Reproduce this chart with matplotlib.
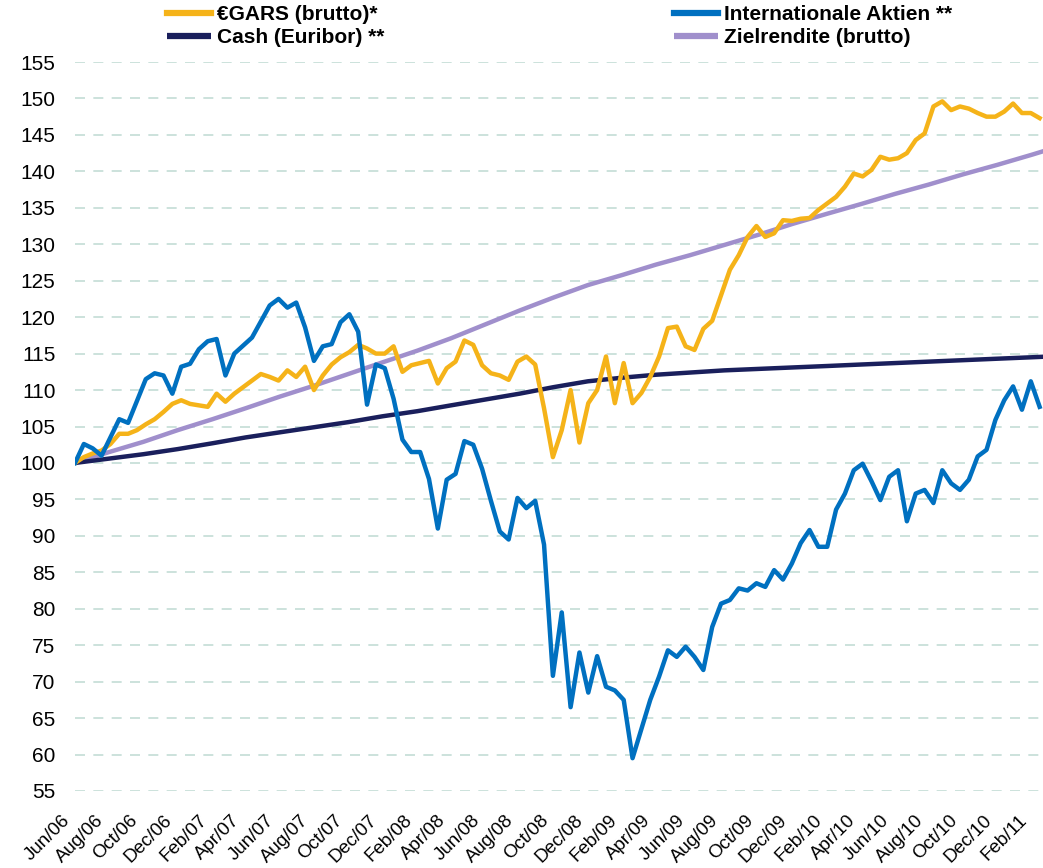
import matplotlib
matplotlib.use('Agg')
import matplotlib.pyplot as plt
import matplotlib.dates as mdates
import matplotlib.transforms as mtransforms
import pandas as pd

# semi-monthly readings, Jun 2006 - Feb 2011
dates = pd.date_range('2006-06-01', '2011-02-14', periods=110)

gars = [100.0, 100.8, 101.3, 101.7, 102.6, 104.0, 104.0, 104.5, 105.3, 106.0,
        107.0, 108.1, 108.6, 108.1, 107.9, 107.7, 109.5, 108.4, 109.5, 110.4,
        111.3, 112.2, 111.8, 111.3, 112.7, 111.8, 113.2, 110.0, 112.0, 113.5,
        114.5, 115.2, 116.2, 115.7, 115.0, 115.0, 116.0, 112.5, 113.4, 113.7,
        114.0, 110.9, 113.0, 113.9, 116.8, 116.2, 113.4, 112.3, 112.0, 111.4,
        113.9, 114.6, 113.5, 107.5, 100.8, 104.5, 110.0, 102.8, 108.2, 110.0,
        114.6, 108.2, 113.7, 108.2, 109.6, 111.8, 114.6, 118.5, 118.7, 116.0,
        115.5, 118.4, 119.5, 123.0, 126.5, 128.5, 131.0, 132.5, 131.0, 131.5,
        133.3, 133.2, 133.5, 133.6, 134.7, 135.6, 136.5, 137.9, 139.7, 139.3,
        140.2, 142.0, 141.6, 141.8, 142.5, 144.3, 145.2, 148.9, 149.6, 148.4,
        148.9, 148.6, 148.0, 147.5, 147.5, 148.2, 149.3, 148.0, 148.0, 147.3]

aktien = [100.0, 102.6, 102.0, 101.0, 103.5, 106.0, 105.5, 108.5, 111.5, 112.3,
          112.0, 109.5, 113.2, 113.6, 115.6, 116.7, 117.0, 112.0, 115.0, 116.1,
          117.2, 119.4, 121.6, 122.5, 121.3, 122.0, 118.6, 114.0, 116.0, 116.3,
          119.3, 120.4, 118.0, 108.0, 113.5, 113.0, 108.8, 103.2, 101.5, 101.5,
          97.8, 91.0, 97.7, 98.5, 103.0, 102.5, 99.2, 94.8, 90.6, 89.5,
          95.2, 93.8, 94.8, 88.8, 70.8, 79.5, 66.5, 74.0, 68.5, 73.5,
          69.3, 68.8, 67.5, 59.5, 63.5, 67.5, 70.7, 74.3, 73.4, 74.8,
          73.4, 71.6, 77.5, 80.7, 81.2, 82.8, 82.5, 83.5, 83.0, 85.3,
          84.0, 86.2, 89.0, 90.8, 88.5, 88.5, 93.6, 95.8, 99.0, 99.9,
          97.5, 94.9, 98.1, 99.0, 92.0, 95.8, 96.3, 94.5, 99.0, 97.2,
          96.3, 97.7, 100.9, 101.8, 105.9, 108.6, 110.5, 107.3, 111.2, 107.7]

# smooth series, every two months
dates_2m = pd.date_range('2006-06-01', '2011-04-01', freq='2MS')

cash = [100.0, 100.6, 101.2, 101.9, 102.7, 103.5, 104.2, 104.9, 105.6, 106.4,
        107.1, 107.9, 108.7, 109.5, 110.4, 111.2, 111.7, 112.1, 112.4, 112.7,
        112.9, 113.1, 113.3, 113.5, 113.7, 113.9, 114.1, 114.3, 114.5, 114.7]

zielrendite = [100.0, 101.5, 102.9, 104.5, 106.0, 107.5, 109.1, 110.6, 112.2, 113.8,
               115.4, 117.1, 119.0, 120.9, 122.7, 124.4, 125.8, 127.2, 128.5, 129.9,
               131.3, 132.8, 134.2, 135.5, 136.9, 138.2, 139.6, 140.9, 142.3, 143.7]

yticks = list(range(55, 160, 5))

c_gars = '#F5B319'
c_aktien = '#0070C0'
c_cash = '#1A1F5C'
c_ziel = '#A08FCC'

plt.rcParams['font.family'] = ['Liberation Sans', 'DejaVu Sans']

fig = plt.figure(figsize=(10.43, 8.68), dpi=100)
ax = fig.add_axes([75 / 1043, 1 - 791 / 868, 1 - 75 / 1043, (791 - 62) / 868])

l_ziel, = ax.plot(dates_2m, zielrendite, color=c_ziel, lw=3.2, solid_capstyle='butt')
l_cash, = ax.plot(dates_2m, cash, color=c_cash, lw=3.2, solid_capstyle='butt')
l_gars, = ax.plot(dates, gars, color=c_gars, lw=3.2, solid_joinstyle='round')
l_akt, = ax.plot(dates, aktien, color=c_aktien, lw=3.2, solid_joinstyle='round')

ax.set_ylim(55, 155)
ax.set_yticks(yticks)
ax.set_xlim(pd.Timestamp('2006-06-01'), pd.Timestamp('2011-02-20'))

ax.xaxis.set_major_locator(mdates.MonthLocator(bymonth=[2, 4, 6, 8, 10, 12], bymonthday=1))
ax.xaxis.set_major_formatter(mdates.DateFormatter('%b/%y'))

ax.grid(axis='y', color='#C4DDD6', lw=1.2, linestyle=(0, (6, 5)))
ax.set_axisbelow(True)
for s in ax.spines.values():
    s.set_visible(False)

ax.tick_params(axis='y', length=0, pad=14, labelsize=15)
ax.tick_params(axis='x', length=0, pad=15, labelsize=13.5)

offset = mtransforms.ScaledTranslation(-0.14, 0, fig.dpi_scale_trans)
for lab in ax.get_xticklabels():
    lab.set_rotation(45)
    lab.set_ha('right')
    lab.set_va('top')
    lab.set_rotation_mode('anchor')
    lab.set_transform(lab.get_transform() + offset)

leg = fig.legend([l_gars, l_cash, l_akt, l_ziel],
                 ['€GARS (brutto)*', 'Cash (Euribor) **',
                  'Internationale Aktien **', 'Zielrendite (brutto)'],
                 ncol=2, loc='upper left', bbox_to_anchor=(167 / 1043, 1 - 5 / 868),
                 frameon=False, borderpad=0, borderaxespad=0,
                 handlelength=2.1, handletextpad=0.3, columnspacing=13.9,
                 labelspacing=0.2, prop={'weight': 'bold', 'size': 15})
for line in leg.get_lines():
    line.set_linewidth(4.5)

fig.savefig('out.png', dpi=100)
